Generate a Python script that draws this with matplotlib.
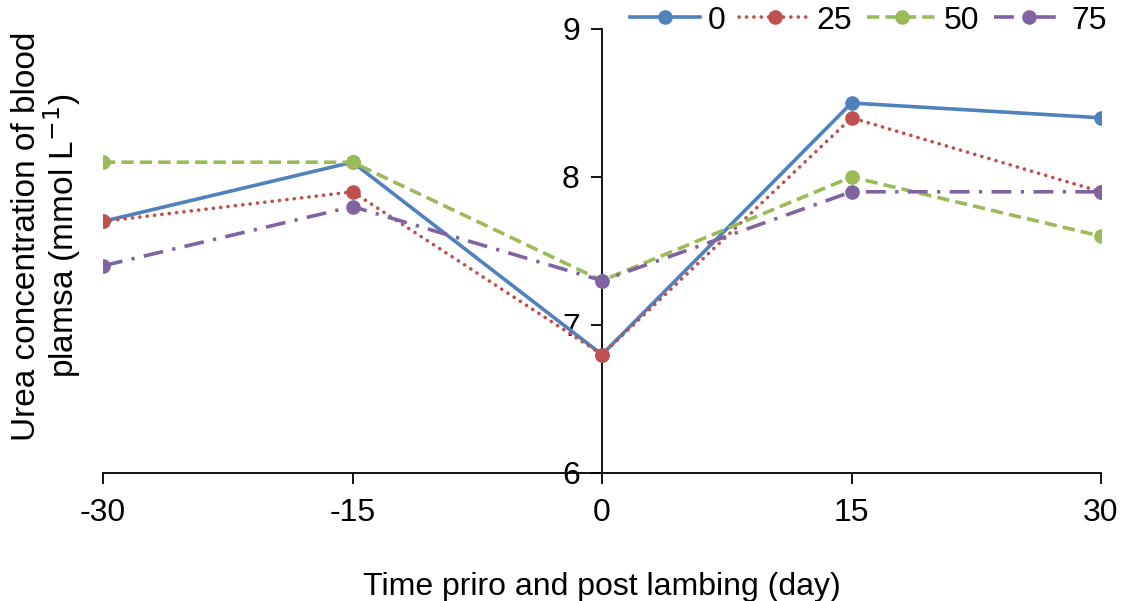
import matplotlib
matplotlib.use("Agg")
import matplotlib.pyplot as plt

plt.rcParams['font.family'] = ['Liberation Sans', 'DejaVu Sans']

days = [-30, -15, 0, 15, 30]
series_names = ["0", "25", "50", "75"]
urea_0 = [7.7, 8.1, 6.8, 8.5, 8.4]
urea_25 = [7.7, 7.9, 6.8, 8.4, 7.9]
urea_50 = [8.1, 8.1, 7.3, 8.0, 7.6]
urea_75 = [7.4, 7.8, 7.3, 7.9, 7.9]
y_ticks = [6, 7, 8, 9]

colors = ["#4F81BD", "#C0504D", "#9BBB59", "#8064A2"]
styles = ["-", (0, (0.05, 2.0)), (0, (3.4, 1.7)), (0, (5.5, 2.6, 0.9, 2.6))]
caps = ["butt", "round", "butt", "butt"]

fig = plt.figure(figsize=(11.29, 6.01), dpi=100)
ax = fig.add_axes([103 / 1129, 128 / 601, (1101 - 103) / 1129, (473 - 29) / 601])

for vals, name, c, ls, cap in zip([urea_0, urea_25, urea_50, urea_75], series_names,
                                  colors, styles, caps):
    ax.plot(days, vals, color=c, linestyle=ls, linewidth=2.6, marker="o",
            markersize=9.5, label=name, zorder=3, dash_capstyle=cap)

ax.set_xlim(-30, 30)
ax.set_ylim(6, 9)
ax.set_xticks(days)
ax.set_xticklabels([str(d) for d in days])
ax.set_yticks(y_ticks)

ax.spines['left'].set_position(('data', 0))
ax.spines['top'].set_visible(False)
ax.spines['right'].set_visible(False)
for s in ['left', 'bottom']:
    ax.spines[s].set_linewidth(1.3)
    ax.spines[s].set_color('black')

ax.tick_params(axis='y', direction='out', length=8, width=1.3, labelsize=23, pad=8)
ax.tick_params(axis='x', direction='out', length=8, width=1.3, labelsize=23, pad=10)

ax.set_xlabel("Time priro and post lambing (day)", fontsize=23, labelpad=32)
fig.text(47 / 1129, 1 - 236 / 601, "Urea concentration of blood\nplamsa (mmol L$^{-1}$)",
         rotation=90, ha='center', va='center', fontsize=24, linespacing=1.0)

leg = ax.legend(loc='upper right', bbox_to_anchor=(1.009, 1.06), ncol=4, frameon=False,
                fontsize=23, handlelength=2.2, columnspacing=0.45, handletextpad=0.22,
                borderpad=0.1, borderaxespad=0)

fig.savefig("out.png", dpi=100)
